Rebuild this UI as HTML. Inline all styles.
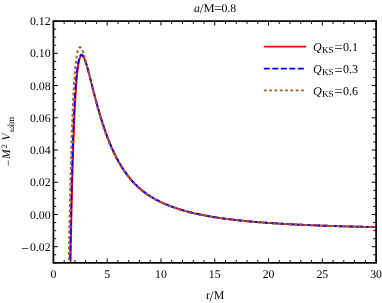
<!DOCTYPE html>
<html><head><meta charset="utf-8"><title>plot</title>
<style>html,body{margin:0;padding:0;background:#fff}svg{display:block}text{font-family:"Liberation Serif",serif;fill:#000;text-rendering:geometricPrecision}svg{will-change:transform}</style></head>
<body>
<svg width="382" height="303" viewBox="0 0 382 303">
<rect width="382" height="303" fill="#fff"/>
<defs><clipPath id="c"><rect x="53.4" y="21.1" width="322.70" height="241.75"/></clipPath></defs>
<g clip-path="url(#c)" fill="none" stroke-linejoin="round">
<path d="M70.38,270.86 L70.47,265.39 L70.57,260.03 L70.66,254.78 L70.76,249.63 L70.85,244.58 L70.95,239.64 L71.04,234.79 L71.13,230.05 L71.23,225.40 L71.32,220.85 L71.42,216.40 L71.51,212.04 L71.61,207.77 L71.70,203.59 L71.80,199.50 L71.89,195.49 L71.98,191.58 L72.08,187.75 L72.17,184.00 L72.27,180.33 L72.36,176.75 L72.46,173.24 L72.55,169.81 L72.65,166.46 L72.74,163.19 L72.83,159.99 L72.93,156.86 L73.02,153.80 L73.12,150.82 L73.21,147.90 L73.31,145.05 L73.40,142.27 L73.49,139.55 L73.59,136.90 L73.68,134.31 L73.78,131.78 L73.87,129.31 L73.97,126.91 L74.06,124.56 L74.16,122.27 L74.25,120.03 L74.34,117.86 L74.44,115.73 L74.53,113.66 L74.63,111.64 L74.72,109.68 L74.82,107.76 L74.91,105.89 L75.01,104.08 L75.10,102.31 L75.19,100.58 L75.29,98.90 L75.38,97.27 L75.48,95.68 L75.57,94.14 L75.67,92.64 L75.76,91.17 L75.86,89.75 L75.95,88.37 L76.04,87.03 L76.14,85.73 L76.23,84.46 L76.33,83.23 L76.42,82.04 L76.52,80.89 L76.61,79.76 L76.70,78.68 L76.80,77.62 L76.89,76.60 L76.99,75.61 L77.08,74.65 L77.18,73.72 L77.27,72.82 L77.37,71.96 L77.46,71.12 L77.55,70.31 L77.65,69.52 L77.74,68.77 L77.84,68.04 L77.93,67.33 L78.03,66.66 L78.12,66.00 L78.22,65.38 L78.31,64.77 L78.40,64.19 L78.50,63.63 L78.59,63.10 L78.69,62.58 L78.78,62.09 L78.88,61.62 L78.97,61.17 L79.07,60.74 L79.16,60.33 L79.25,59.94 L79.35,59.57 L79.44,59.22 L79.54,58.88 L79.63,58.56 L79.73,58.27 L79.82,57.98 L79.92,57.72 L80.01,57.47 L80.10,57.23 L80.20,57.02 L80.29,56.81 L80.39,56.62 L80.48,56.45 L80.58,56.29 L80.67,56.15 L80.76,56.02 L80.86,55.90 L80.95,55.79 L81.05,55.70 L81.14,55.62 L81.24,55.55 L81.33,55.50 L81.43,55.45 L81.52,55.42 L81.61,55.40 L81.71,55.39 L81.80,55.39 L81.90,55.40 L81.99,55.42 L82.09,55.45 L82.18,55.49 L82.28,55.54 L82.37,55.60 L82.46,55.67 L82.56,55.75 L82.65,55.83 L82.75,55.93 L82.84,56.03 L82.94,56.14 L83.03,56.26 L83.13,56.38 L83.22,56.52 L83.31,56.66 L83.41,56.81 L83.50,56.96 L83.60,57.12 L83.69,57.29 L83.79,57.46 L83.88,57.65 L83.97,57.83 L84.07,58.03 L84.16,58.22 L84.26,58.43 L84.35,58.64 L84.45,58.85 L84.54,59.07 L84.64,59.30 L84.73,59.53 L84.82,59.77 L84.92,60.01 L85.01,60.25 L85.11,60.50 L85.20,60.76 L85.30,61.01 L85.39,61.28 L85.49,61.54 L85.58,61.81 L85.67,62.09 L85.77,62.37 L85.86,62.65 L85.96,62.96 L86.05,63.25 L86.15,63.54 L86.24,63.84 L86.34,64.14 L86.43,64.44 L86.52,64.74 L86.62,65.05 L86.71,65.36 L86.81,65.67 L86.90,65.99 L87.00,66.31 L87.09,66.63 L87.19,66.95 L87.28,67.27 L87.37,67.60 L87.47,67.93 L87.56,68.26 L87.66,68.59 L87.75,68.93 L87.85,69.27 L87.94,69.60 L88.03,69.94 L88.13,70.29 L88.22,70.63 L88.32,70.98 L88.41,71.32 L88.51,71.67 L88.60,72.02 L88.70,72.37 L88.79,72.72 L88.88,73.08 L88.98,73.43 L89.07,73.79 L89.17,74.14 L89.26,74.50 L89.36,74.86 L89.45,75.22 L89.55,75.58 L89.64,75.94 L89.73,76.31 L89.83,76.67 L89.92,77.03 L90.02,77.40 L90.11,77.76 L90.21,78.13 L90.30,78.49 L90.40,78.86 L90.49,79.23 L90.58,79.59 L90.68,79.96 L90.77,80.33 L90.87,80.70 L90.96,81.07 L91.06,81.44 L91.15,81.81 L91.24,82.17 L91.34,82.54 L91.43,82.91 L91.53,83.28 L91.62,83.65 L91.72,84.02 L91.81,84.39 L91.91,84.76 L92.00,85.14 L92.09,85.51 L92.19,85.88 L92.28,86.25 L92.38,86.62 L92.47,86.98 L92.57,87.35 L92.66,87.72 L92.76,88.09 L92.85,88.46 L92.94,88.83 L93.04,89.20 L93.13,89.57 L93.23,89.93 L93.32,90.30 L93.42,90.67 L93.51,91.04 L93.61,91.40 L93.70,91.77 L93.79,92.13 L93.89,92.50 L93.98,92.86 L94.08,93.23 L94.17,93.59 L94.27,93.96 L94.36,94.32 L94.46,94.68 L94.55,95.04 L94.64,95.41 L94.74,95.77 L94.83,96.13 L94.93,96.49 L95.02,96.85 L95.12,97.20 L95.21,97.56 L95.30,97.92 L95.40,98.28 L95.49,98.63 L95.59,98.99 L95.68,99.34 L95.78,99.70 L95.87,100.05 L95.97,100.40 L96.06,100.75 L96.15,101.11 L96.25,101.46 L96.34,101.81 L96.44,102.16 L96.53,102.50 L96.63,102.85 L97.71,106.80 L98.80,110.65 L99.89,114.38 L100.98,118.00 L102.07,121.49 L103.16,124.87 L104.24,128.14 L105.33,131.28 L106.42,134.31 L107.51,137.23 L108.60,140.05 L109.68,142.76 L110.77,145.37 L111.86,147.88 L112.95,150.30 L114.04,152.62 L115.12,154.86 L116.21,157.02 L117.30,159.09 L118.39,161.09 L119.48,163.02 L120.57,164.87 L121.65,166.66 L122.74,168.38 L123.83,170.03 L124.92,171.63 L126.01,173.17 L127.09,174.65 L128.18,176.08 L129.27,177.45 L130.36,178.78 L131.45,180.06 L132.53,181.29 L133.62,182.48 L134.71,183.62 L135.80,184.73 L136.89,185.79 L137.98,186.82 L139.06,187.81 L140.15,188.77 L141.24,189.70 L142.33,190.59 L143.42,191.45 L144.50,192.28 L145.59,193.09 L146.68,193.86 L147.77,194.62 L148.86,195.34 L149.94,196.05 L151.03,196.73 L152.12,197.39 L153.21,198.03 L154.30,198.66 L155.39,199.26 L156.47,199.85 L157.56,200.42 L158.65,200.97 L159.74,201.51 L160.83,202.03 L161.91,202.54 L163.00,203.04 L164.09,203.52 L165.18,203.99 L166.27,204.45 L167.35,204.90 L168.44,205.33 L169.53,205.76 L170.62,206.18 L171.71,206.58 L172.80,206.98 L173.88,207.37 L174.97,207.75 L176.06,208.12 L177.15,208.48 L178.24,208.83 L179.32,209.18 L180.41,209.52 L181.50,209.85 L182.59,210.17 L183.68,210.49 L184.76,210.80 L185.85,211.10 L186.94,211.40 L188.03,211.69 L189.12,211.97 L190.21,212.25 L191.29,212.52 L192.38,212.79 L193.47,213.05 L194.56,213.31 L195.65,213.56 L196.73,213.80 L197.82,214.04 L198.91,214.27 L200.00,214.50 L201.09,214.73 L202.17,214.95 L203.26,215.17 L204.35,215.38 L205.44,215.58 L206.53,215.79 L207.62,215.99 L208.70,216.18 L209.79,216.37 L210.88,216.56 L211.97,216.74 L213.06,216.92 L214.14,217.10 L215.23,217.28 L216.32,217.45 L217.41,217.61 L218.50,217.78 L219.58,217.94 L220.67,218.10 L221.76,218.25 L222.85,218.40 L223.94,218.55 L225.03,218.70 L226.11,218.84 L227.20,218.98 L228.29,219.12 L229.38,219.26 L230.47,219.39 L231.55,219.52 L232.64,219.65 L233.73,219.78 L234.82,219.91 L235.91,220.03 L236.99,220.15 L238.08,220.27 L239.17,220.38 L240.26,220.50 L241.35,220.61 L242.44,220.72 L243.52,220.83 L244.61,220.94 L245.70,221.05 L246.79,221.15 L247.88,221.25 L248.96,221.35 L250.05,221.45 L251.14,221.55 L252.23,221.64 L253.32,221.74 L254.40,221.83 L255.49,221.92 L256.58,222.01 L257.67,222.10 L258.76,222.19 L259.85,222.27 L260.93,222.36 L262.02,222.44 L263.11,222.52 L264.20,222.61 L265.29,222.69 L266.37,222.76 L267.46,222.84 L268.55,222.92 L269.64,222.99 L270.73,223.07 L271.81,223.14 L272.90,223.21 L273.99,223.28 L275.08,223.35 L276.17,223.42 L277.26,223.49 L278.34,223.56 L279.43,223.62 L280.52,223.69 L281.61,223.75 L282.70,223.81 L283.78,223.88 L284.87,223.94 L285.96,224.00 L287.05,224.06 L288.14,224.12 L289.22,224.18 L290.31,224.23 L291.40,224.29 L292.49,224.35 L293.58,224.40 L294.67,224.46 L295.75,224.51 L296.84,224.56 L297.93,224.62 L299.02,224.67 L300.11,224.72 L301.19,224.77 L302.28,224.82 L303.37,224.87 L304.46,224.92 L305.55,224.96 L306.64,225.01 L307.72,225.06 L308.81,225.11 L309.90,225.15 L310.99,225.20 L312.08,225.24 L313.16,225.28 L314.25,225.33 L315.34,225.37 L316.43,225.41 L317.52,225.45 L318.60,225.50 L319.69,225.54 L320.78,225.58 L321.87,225.62 L322.96,225.66 L324.05,225.70 L325.13,225.73 L326.22,225.77 L327.31,225.81 L328.40,225.85 L329.49,225.88 L330.57,225.92 L331.66,225.96 L332.75,225.99 L333.84,226.03 L334.93,226.06 L336.01,226.10 L337.10,226.13 L338.19,226.16 L339.28,226.20 L340.37,226.23 L341.46,226.26 L342.54,226.29 L343.63,226.33 L344.72,226.36 L345.81,226.39 L346.90,226.42 L347.98,226.45 L349.07,226.48 L350.16,226.51 L351.25,226.54 L352.34,226.57 L353.42,226.60 L354.51,226.62 L355.60,226.65 L356.69,226.68 L357.78,226.71 L358.87,226.74 L359.95,226.76 L361.04,226.79 L362.13,226.82 L363.22,226.84 L364.31,226.87 L365.39,226.89 L366.48,226.92 L367.57,226.94 L368.66,226.97 L369.75,226.99 L370.83,227.02 L371.92,227.04 L373.01,227.07 L374.10,227.09 L375.19,227.11 L376.28,227.14 L377.36,227.16 L378.45,227.18" stroke="#ff0000" stroke-width="1.9"/>
<path d="M69.84,273.16 L69.93,267.64 L70.03,262.23 L70.12,256.92 L70.22,251.72 L70.31,246.63 L70.41,241.63 L70.50,236.74 L70.60,231.95 L70.69,227.25 L70.78,222.65 L70.88,218.15 L70.97,213.74 L71.07,209.42 L71.16,205.19 L71.26,201.06 L71.35,197.01 L71.45,193.05 L71.54,189.17 L71.63,185.38 L71.73,181.67 L71.82,178.04 L71.92,174.49 L72.01,171.02 L72.11,167.63 L72.20,164.31 L72.30,161.07 L72.39,157.90 L72.48,154.80 L72.58,151.78 L72.67,148.82 L72.77,145.94 L72.86,143.12 L72.96,140.36 L73.05,137.67 L73.14,135.05 L73.24,132.49 L73.33,129.99 L73.43,127.54 L73.52,125.16 L73.62,122.84 L73.71,120.57 L73.81,118.36 L73.90,116.21 L73.99,114.11 L74.09,112.06 L74.18,110.07 L74.28,108.12 L74.37,106.23 L74.47,104.38 L74.56,102.58 L74.66,100.83 L74.75,99.13 L74.84,97.47 L74.94,95.86 L75.03,94.29 L75.13,92.76 L75.23,91.28 L75.32,89.83 L75.42,88.43 L75.52,87.07 L75.62,85.74 L75.71,84.45 L75.81,83.21 L75.91,81.99 L76.01,80.82 L76.11,79.67 L76.21,78.57 L76.31,77.49 L76.41,76.45 L76.51,75.45 L76.61,74.47 L76.71,73.52 L76.81,72.61 L76.91,71.73 L77.01,70.87 L77.11,70.04 L77.22,69.25 L77.32,68.48 L77.42,67.73 L77.52,67.01 L77.62,66.32 L77.72,65.66 L77.83,65.02 L77.93,64.40 L78.03,63.80 L78.13,63.24 L78.23,62.69 L78.34,62.16 L78.44,61.66 L78.54,61.18 L78.64,60.72 L78.74,60.28 L78.85,59.86 L78.95,59.46 L79.05,59.08 L79.15,58.71 L79.25,58.37 L79.35,58.04 L79.46,57.74 L79.56,57.45 L79.66,57.17 L79.76,56.91 L79.86,56.67 L79.96,56.45 L80.06,56.24 L80.16,56.04 L80.26,55.86 L80.36,55.70 L80.46,55.55 L80.55,55.41 L80.65,55.28 L80.75,55.17 L80.85,55.08 L80.94,54.99 L81.04,54.92 L81.14,54.86 L81.23,54.81 L81.33,54.77 L81.43,54.75 L81.52,54.73 L81.61,54.73 L81.71,54.73 L81.80,54.75 L81.90,54.78 L81.99,54.81 L82.09,54.86 L82.18,54.92 L82.28,54.98 L82.37,55.06 L82.46,55.14 L82.56,55.23 L82.65,55.33 L82.75,55.44 L82.84,55.55 L82.94,55.68 L83.03,55.81 L83.13,55.95 L83.22,56.09 L83.31,56.24 L83.41,56.40 L83.50,56.57 L83.60,56.74 L83.69,56.92 L83.79,57.11 L83.88,57.30 L83.97,57.50 L84.07,57.70 L84.16,57.91 L84.26,58.13 L84.35,58.34 L84.45,58.57 L84.54,58.80 L84.64,59.04 L84.73,59.28 L84.82,59.52 L84.92,59.77 L85.01,60.02 L85.11,60.28 L85.20,60.54 L85.30,60.81 L85.39,61.08 L85.49,61.35 L85.58,61.63 L85.67,61.91 L85.77,62.20 L85.86,62.49 L85.96,62.81 L86.05,63.11 L86.15,63.40 L86.24,63.71 L86.34,64.01 L86.43,64.32 L86.52,64.63 L86.62,64.94 L86.71,65.26 L86.81,65.58 L86.90,65.90 L87.00,66.22 L87.09,66.55 L87.19,66.87 L87.28,67.20 L87.37,67.54 L87.47,67.87 L87.56,68.21 L87.66,68.54 L87.75,68.88 L87.85,69.23 L87.94,69.57 L88.03,69.91 L88.13,70.26 L88.22,70.61 L88.32,70.96 L88.41,71.31 L88.51,71.66 L88.60,72.02 L88.70,72.37 L88.79,72.73 L88.88,73.08 L88.98,73.44 L89.07,73.80 L89.17,74.16 L89.26,74.52 L89.36,74.89 L89.45,75.25 L89.55,75.61 L89.64,75.98 L89.73,76.34 L89.83,76.71 L89.92,77.07 L90.02,77.44 L90.11,77.81 L90.21,78.18 L90.30,78.55 L90.40,78.92 L90.49,79.29 L90.58,79.66 L90.68,80.03 L90.77,80.40 L90.87,80.77 L90.96,81.14 L91.06,81.51 L91.15,81.88 L91.24,82.25 L91.34,82.63 L91.43,83.00 L91.53,83.37 L91.62,83.74 L91.72,84.11 L91.81,84.49 L91.91,84.86 L92.00,85.23 L92.09,85.60 L92.19,85.97 L92.28,86.34 L92.38,86.72 L92.47,87.09 L92.57,87.46 L92.66,87.83 L92.76,88.20 L92.85,88.57 L92.94,88.94 L93.04,89.31 L93.13,89.68 L93.23,90.05 L93.32,90.42 L93.42,90.79 L93.51,91.15 L93.61,91.52 L93.70,91.89 L93.79,92.26 L93.89,92.62 L93.98,92.99 L94.08,93.35 L94.17,93.72 L94.27,94.08 L94.36,94.45 L94.46,94.81 L94.55,95.17 L94.64,95.54 L94.74,95.90 L94.83,96.26 L94.93,96.62 L95.02,96.98 L95.12,97.34 L95.21,97.70 L95.30,98.06 L95.40,98.41 L95.49,98.77 L95.59,99.13 L95.68,99.48 L95.78,99.84 L95.87,100.19 L95.97,100.54 L96.06,100.90 L96.15,101.25 L96.25,101.60 L96.34,101.95 L96.44,102.30 L96.53,102.65 L96.63,103.00 L97.71,106.95 L98.80,110.80 L99.89,114.53 L100.98,118.15 L102.07,121.65 L103.16,125.02 L104.24,128.28 L105.33,131.43 L106.42,134.45 L107.51,137.37 L108.60,140.18 L109.68,142.89 L110.77,145.49 L111.86,148.00 L112.95,150.42 L114.04,152.74 L115.12,154.97 L116.21,157.13 L117.30,159.20 L118.39,161.20 L119.48,163.12 L120.57,164.97 L121.65,166.75 L122.74,168.47 L123.83,170.12 L124.92,171.71 L126.01,173.25 L127.09,174.73 L128.18,176.15 L129.27,177.53 L130.36,178.85 L131.45,180.13 L132.53,181.36 L133.62,182.54 L134.71,183.69 L135.80,184.79 L136.89,185.85 L137.98,186.88 L139.06,187.87 L140.15,188.83 L141.24,189.75 L142.33,190.64 L143.42,191.50 L144.50,192.33 L145.59,193.13 L146.68,193.91 L147.77,194.66 L148.86,195.39 L149.94,196.09 L151.03,196.77 L152.12,197.43 L153.21,198.07 L154.30,198.69 L155.39,199.30 L156.47,199.88 L157.56,200.45 L158.65,201.00 L159.74,201.54 L160.83,202.06 L161.91,202.57 L163.00,203.06 L164.09,203.55 L165.18,204.02 L166.27,204.48 L167.35,204.92 L168.44,205.36 L169.53,205.79 L170.62,206.20 L171.71,206.61 L172.80,207.00 L173.88,207.39 L174.97,207.77 L176.06,208.14 L177.15,208.50 L178.24,208.86 L179.32,209.20 L180.41,209.54 L181.50,209.87 L182.59,210.19 L183.68,210.51 L184.76,210.82 L185.85,211.12 L186.94,211.42 L188.03,211.71 L189.12,211.99 L190.21,212.27 L191.29,212.54 L192.38,212.81 L193.47,213.07 L194.56,213.32 L195.65,213.57 L196.73,213.82 L197.82,214.05 L198.91,214.29 L200.00,214.52 L201.09,214.74 L202.17,214.96 L203.26,215.18 L204.35,215.39 L205.44,215.60 L206.53,215.80 L207.62,216.00 L208.70,216.19 L209.79,216.38 L210.88,216.57 L211.97,216.76 L213.06,216.94 L214.14,217.11 L215.23,217.29 L216.32,217.46 L217.41,217.62 L218.50,217.79 L219.58,217.95 L220.67,218.10 L221.76,218.26 L222.85,218.41 L223.94,218.56 L225.03,218.71 L226.11,218.85 L227.20,218.99 L228.29,219.13 L229.38,219.27 L230.47,219.40 L231.55,219.53 L232.64,219.66 L233.73,219.79 L234.82,219.91 L235.91,220.04 L236.99,220.16 L238.08,220.27 L239.17,220.39 L240.26,220.51 L241.35,220.62 L242.44,220.73 L243.52,220.84 L244.61,220.95 L245.70,221.05 L246.79,221.16 L247.88,221.26 L248.96,221.36 L250.05,221.46 L251.14,221.55 L252.23,221.65 L253.32,221.74 L254.40,221.84 L255.49,221.93 L256.58,222.02 L257.67,222.11 L258.76,222.19 L259.85,222.28 L260.93,222.36 L262.02,222.45 L263.11,222.53 L264.20,222.61 L265.29,222.69 L266.37,222.77 L267.46,222.85 L268.55,222.92 L269.64,223.00 L270.73,223.07 L271.81,223.14 L272.90,223.22 L273.99,223.29 L275.08,223.36 L276.17,223.42 L277.26,223.49 L278.34,223.56 L279.43,223.63 L280.52,223.69 L281.61,223.75 L282.70,223.82 L283.78,223.88 L284.87,223.94 L285.96,224.00 L287.05,224.06 L288.14,224.12 L289.22,224.18 L290.31,224.24 L291.40,224.29 L292.49,224.35 L293.58,224.41 L294.67,224.46 L295.75,224.51 L296.84,224.57 L297.93,224.62 L299.02,224.67 L300.11,224.72 L301.19,224.77 L302.28,224.82 L303.37,224.87 L304.46,224.92 L305.55,224.97 L306.64,225.02 L307.72,225.06 L308.81,225.11 L309.90,225.15 L310.99,225.20 L312.08,225.24 L313.16,225.29 L314.25,225.33 L315.34,225.37 L316.43,225.42 L317.52,225.46 L318.60,225.50 L319.69,225.54 L320.78,225.58 L321.87,225.62 L322.96,225.66 L324.05,225.70 L325.13,225.74 L326.22,225.77 L327.31,225.81 L328.40,225.85 L329.49,225.89 L330.57,225.92 L331.66,225.96 L332.75,225.99 L333.84,226.03 L334.93,226.06 L336.01,226.10 L337.10,226.13 L338.19,226.16 L339.28,226.20 L340.37,226.23 L341.46,226.26 L342.54,226.30 L343.63,226.33 L344.72,226.36 L345.81,226.39 L346.90,226.42 L347.98,226.45 L349.07,226.48 L350.16,226.51 L351.25,226.54 L352.34,226.57 L353.42,226.60 L354.51,226.63 L355.60,226.65 L356.69,226.68 L357.78,226.71 L358.87,226.74 L359.95,226.76 L361.04,226.79 L362.13,226.82 L363.22,226.84 L364.31,226.87 L365.39,226.89 L366.48,226.92 L367.57,226.94 L368.66,226.97 L369.75,226.99 L370.83,227.02 L371.92,227.04 L373.01,227.07 L374.10,227.09 L375.19,227.11 L376.28,227.14 L377.36,227.16 L378.45,227.18" stroke="#0000ff" stroke-width="1.9" stroke-dasharray="6 2.5" stroke-dashoffset="3.59"/>
<path d="M68.59,272.07 L68.68,266.53 L68.77,261.08 L68.87,255.73 L68.96,250.49 L69.06,245.34 L69.15,240.29 L69.25,235.33 L69.34,230.47 L69.43,225.71 L69.53,221.04 L69.62,216.46 L69.72,211.97 L69.81,207.57 L69.91,203.26 L70.00,199.03 L70.10,194.90 L70.19,190.84 L70.28,186.87 L70.38,182.99 L70.47,179.18 L70.57,175.46 L70.66,171.81 L70.76,168.24 L70.85,164.75 L70.95,161.34 L71.04,158.00 L71.13,154.73 L71.23,151.54 L71.32,148.41 L71.42,145.36 L71.51,142.37 L71.61,139.46 L71.70,136.61 L71.80,133.82 L71.89,131.10 L71.98,128.45 L72.08,125.85 L72.17,123.32 L72.27,120.85 L72.36,118.43 L72.46,116.08 L72.55,113.78 L72.65,111.54 L72.74,109.35 L72.83,107.22 L72.93,105.14 L73.02,103.11 L73.12,101.14 L73.21,99.21 L73.31,97.34 L73.40,95.51 L73.49,93.73 L73.59,92.00 L73.68,90.31 L73.78,88.67 L73.87,87.08 L73.97,85.53 L74.06,84.02 L74.16,82.55 L74.25,81.12 L74.34,79.73 L74.44,78.39 L74.53,77.08 L74.63,75.81 L74.72,74.58 L74.82,73.38 L74.91,72.22 L75.01,71.10 L75.10,70.01 L75.19,68.95 L75.29,67.93 L75.38,66.94 L75.48,65.98 L75.57,65.05 L75.67,64.15 L75.76,63.29 L75.86,62.45 L75.95,61.64 L76.04,60.86 L76.14,60.11 L76.23,59.38 L76.33,58.68 L76.42,58.01 L76.52,57.36 L76.61,56.74 L76.70,56.14 L76.80,55.57 L76.89,55.02 L76.99,54.49 L77.08,53.99 L77.18,53.50 L77.27,53.04 L77.37,52.60 L77.46,52.18 L77.55,51.78 L77.65,51.40 L77.74,51.04 L77.84,50.70 L77.93,50.38 L78.03,50.08 L78.12,49.79 L78.22,49.52 L78.31,49.27 L78.40,49.03 L78.50,48.82 L78.59,48.61 L78.69,48.43 L78.78,48.25 L78.88,48.10 L78.97,47.96 L79.07,47.83 L79.16,47.71 L79.25,47.61 L79.35,47.53 L79.44,47.45 L79.54,47.39 L79.63,47.34 L79.73,47.31 L79.82,47.28 L79.92,47.27 L80.01,47.27 L80.10,47.28 L80.20,47.30 L80.29,47.33 L80.39,47.37 L80.48,47.43 L80.58,47.49 L80.67,47.56 L80.76,47.64 L80.86,47.73 L80.95,47.83 L81.05,47.94 L81.14,48.06 L81.24,48.18 L81.33,48.32 L81.43,48.46 L81.52,48.61 L81.61,48.76 L81.71,48.93 L81.80,49.10 L81.90,49.28 L81.99,49.47 L82.09,49.66 L82.18,49.86 L82.28,50.06 L82.37,50.28 L82.46,50.49 L82.56,50.72 L82.65,50.95 L82.75,51.18 L82.84,51.42 L82.94,51.67 L83.03,51.92 L83.13,52.18 L83.22,52.44 L83.31,52.70 L83.41,52.97 L83.50,53.25 L83.60,53.53 L83.69,53.81 L83.79,54.10 L83.88,54.39 L83.97,54.69 L84.07,54.99 L84.16,55.30 L84.26,55.60 L84.35,55.91 L84.45,56.23 L84.54,56.55 L84.64,56.87 L84.73,57.19 L84.82,57.52 L84.92,57.85 L85.01,58.18 L85.11,58.52 L85.20,58.86 L85.30,59.20 L85.39,59.54 L85.49,59.89 L85.58,60.24 L85.67,60.59 L85.77,60.94 L85.86,61.29 L85.96,61.68 L86.05,62.04 L86.15,62.40 L86.24,62.77 L86.34,63.13 L86.43,63.50 L86.52,63.87 L86.62,64.24 L86.71,64.61 L86.81,64.98 L86.90,65.35 L87.00,65.73 L87.09,66.11 L87.19,66.48 L87.28,66.86 L87.37,67.24 L87.47,67.62 L87.56,68.01 L87.66,68.39 L87.75,68.77 L87.85,69.16 L87.94,69.54 L88.03,69.93 L88.13,70.32 L88.22,70.71 L88.32,71.09 L88.41,71.48 L88.51,71.87 L88.60,72.26 L88.70,72.65 L88.79,73.05 L88.88,73.44 L88.98,73.83 L89.07,74.22 L89.17,74.61 L89.26,75.01 L89.36,75.40 L89.45,75.79 L89.55,76.19 L89.64,76.58 L89.73,76.97 L89.83,77.37 L89.92,77.76 L90.02,78.16 L90.11,78.55 L90.21,78.94 L90.30,79.34 L90.40,79.73 L90.49,80.12 L90.58,80.52 L90.68,80.91 L90.77,81.30 L90.87,81.69 L90.96,82.09 L91.06,82.48 L91.15,82.87 L91.24,83.26 L91.34,83.65 L91.43,84.04 L91.53,84.44 L91.62,84.83 L91.72,85.21 L91.81,85.60 L91.91,85.99 L92.00,86.38 L92.09,86.77 L92.19,87.16 L92.28,87.54 L92.38,87.93 L92.47,88.32 L92.57,88.70 L92.66,89.09 L92.76,89.47 L92.85,89.85 L92.94,90.24 L93.04,90.62 L93.13,91.00 L93.23,91.38 L93.32,91.76 L93.42,92.14 L93.51,92.52 L93.61,92.90 L93.70,93.28 L93.79,93.65 L93.89,94.03 L93.98,94.40 L94.08,94.78 L94.17,95.15 L94.27,95.53 L94.36,95.90 L94.46,96.27 L94.55,96.64 L94.64,97.01 L94.74,97.38 L94.83,97.75 L94.93,98.12 L95.02,98.48 L95.12,98.85 L95.21,99.22 L95.30,99.58 L95.40,99.94 L95.49,100.31 L95.59,100.67 L95.68,101.03 L95.78,101.39 L95.87,101.75 L95.97,102.11 L96.06,102.46 L96.15,102.82 L96.25,103.17 L96.34,103.53 L96.44,103.88 L96.53,104.24 L96.63,104.59 L97.71,108.58 L98.80,112.44 L99.89,116.18 L100.98,119.78 L102.07,123.26 L103.16,126.62 L104.24,129.85 L105.33,132.96 L106.42,135.95 L107.51,138.83 L108.60,141.61 L109.68,144.27 L110.77,146.84 L111.86,149.31 L112.95,151.68 L114.04,153.97 L115.12,156.16 L116.21,158.28 L117.30,160.32 L118.39,162.28 L119.48,164.16 L120.57,165.98 L121.65,167.73 L122.74,169.41 L123.83,171.04 L124.92,172.60 L126.01,174.11 L127.09,175.56 L128.18,176.96 L129.27,178.30 L130.36,179.60 L131.45,180.86 L132.53,182.06 L133.62,183.23 L134.71,184.35 L135.80,185.43 L136.89,186.47 L137.98,187.48 L139.06,188.45 L140.15,189.39 L141.24,190.30 L142.33,191.17 L143.42,192.02 L144.50,192.83 L145.59,193.62 L146.68,194.38 L147.77,195.12 L148.86,195.83 L149.94,196.52 L151.03,197.19 L152.12,197.84 L153.21,198.47 L154.30,199.08 L155.39,199.67 L156.47,200.25 L157.56,200.80 L158.65,201.35 L159.74,201.88 L160.83,202.39 L161.91,202.89 L163.00,203.38 L164.09,203.85 L165.18,204.31 L166.27,204.76 L167.35,205.20 L168.44,205.63 L169.53,206.05 L170.62,206.46 L171.71,206.86 L172.80,207.25 L173.88,207.63 L174.97,208.01 L176.06,208.37 L177.15,208.73 L178.24,209.07 L179.32,209.42 L180.41,209.75 L181.50,210.07 L182.59,210.39 L183.68,210.70 L184.76,211.01 L185.85,211.31 L186.94,211.60 L188.03,211.89 L189.12,212.17 L190.21,212.44 L191.29,212.71 L192.38,212.97 L193.47,213.23 L194.56,213.48 L195.65,213.72 L196.73,213.97 L197.82,214.20 L198.91,214.43 L200.00,214.66 L201.09,214.88 L202.17,215.10 L203.26,215.31 L204.35,215.52 L205.44,215.72 L206.53,215.92 L207.62,216.12 L208.70,216.31 L209.79,216.50 L210.88,216.69 L211.97,216.87 L213.06,217.05 L214.14,217.22 L215.23,217.39 L216.32,217.56 L217.41,217.73 L218.50,217.89 L219.58,218.05 L220.67,218.20 L221.76,218.35 L222.85,218.50 L223.94,218.65 L225.03,218.80 L226.11,218.94 L227.20,219.08 L228.29,219.22 L229.38,219.35 L230.47,219.48 L231.55,219.61 L232.64,219.74 L233.73,219.87 L234.82,219.99 L235.91,220.11 L236.99,220.23 L238.08,220.35 L239.17,220.46 L240.26,220.58 L241.35,220.69 L242.44,220.80 L243.52,220.91 L244.61,221.01 L245.70,221.12 L246.79,221.22 L247.88,221.32 L248.96,221.42 L250.05,221.52 L251.14,221.61 L252.23,221.71 L253.32,221.80 L254.40,221.89 L255.49,221.98 L256.58,222.07 L257.67,222.16 L258.76,222.25 L259.85,222.33 L260.93,222.42 L262.02,222.50 L263.11,222.58 L264.20,222.66 L265.29,222.74 L266.37,222.82 L267.46,222.89 L268.55,222.97 L269.64,223.04 L270.73,223.12 L271.81,223.19 L272.90,223.26 L273.99,223.33 L275.08,223.40 L276.17,223.47 L277.26,223.54 L278.34,223.60 L279.43,223.67 L280.52,223.73 L281.61,223.79 L282.70,223.86 L283.78,223.92 L284.87,223.98 L285.96,224.04 L287.05,224.10 L288.14,224.16 L289.22,224.22 L290.31,224.27 L291.40,224.33 L292.49,224.38 L293.58,224.44 L294.67,224.49 L295.75,224.55 L296.84,224.60 L297.93,224.65 L299.02,224.70 L300.11,224.75 L301.19,224.80 L302.28,224.85 L303.37,224.90 L304.46,224.95 L305.55,225.00 L306.64,225.04 L307.72,225.09 L308.81,225.14 L309.90,225.18 L310.99,225.23 L312.08,225.27 L313.16,225.31 L314.25,225.36 L315.34,225.40 L316.43,225.44 L317.52,225.48 L318.60,225.52 L319.69,225.56 L320.78,225.60 L321.87,225.64 L322.96,225.68 L324.05,225.72 L325.13,225.76 L326.22,225.80 L327.31,225.84 L328.40,225.87 L329.49,225.91 L330.57,225.94 L331.66,225.98 L332.75,226.02 L333.84,226.05 L334.93,226.08 L336.01,226.12 L337.10,226.15 L338.19,226.19 L339.28,226.22 L340.37,226.25 L341.46,226.28 L342.54,226.32 L343.63,226.35 L344.72,226.38 L345.81,226.41 L346.90,226.44 L347.98,226.47 L349.07,226.50 L350.16,226.53 L351.25,226.56 L352.34,226.59 L353.42,226.62 L354.51,226.64 L355.60,226.67 L356.69,226.70 L357.78,226.73 L358.87,226.75 L359.95,226.78 L361.04,226.81 L362.13,226.83 L363.22,226.86 L364.31,226.89 L365.39,226.91 L366.48,226.94 L367.57,226.96 L368.66,226.99 L369.75,227.01 L370.83,227.03 L371.92,227.06 L373.01,227.08 L374.10,227.11 L375.19,227.13 L376.28,227.15 L377.36,227.17 L378.45,227.20" stroke="#996633" stroke-width="2" stroke-dasharray="2.9 2.4125" stroke-dashoffset="3.95"/>
</g>
<path d="M53.40,262.85v-4.4M53.40,21.1v4.4M64.16,262.85v-2.8M64.16,21.1v2.8M74.91,262.85v-2.8M74.91,21.1v2.8M85.67,262.85v-2.8M85.67,21.1v2.8M96.43,262.85v-2.8M96.43,21.1v2.8M107.18,262.85v-4.4M107.18,21.1v4.4M117.94,262.85v-2.8M117.94,21.1v2.8M128.70,262.85v-2.8M128.70,21.1v2.8M139.45,262.85v-2.8M139.45,21.1v2.8M150.21,262.85v-2.8M150.21,21.1v2.8M160.97,262.85v-4.4M160.97,21.1v4.4M171.72,262.85v-2.8M171.72,21.1v2.8M182.48,262.85v-2.8M182.48,21.1v2.8M193.24,262.85v-2.8M193.24,21.1v2.8M203.99,262.85v-2.8M203.99,21.1v2.8M214.75,262.85v-4.4M214.75,21.1v4.4M225.51,262.85v-2.8M225.51,21.1v2.8M236.26,262.85v-2.8M236.26,21.1v2.8M247.02,262.85v-2.8M247.02,21.1v2.8M257.78,262.85v-2.8M257.78,21.1v2.8M268.53,262.85v-4.4M268.53,21.1v4.4M279.29,262.85v-2.8M279.29,21.1v2.8M290.05,262.85v-2.8M290.05,21.1v2.8M300.80,262.85v-2.8M300.80,21.1v2.8M311.56,262.85v-2.8M311.56,21.1v2.8M322.32,262.85v-4.4M322.32,21.1v4.4M333.07,262.85v-2.8M333.07,21.1v2.8M343.83,262.85v-2.8M343.83,21.1v2.8M354.59,262.85v-2.8M354.59,21.1v2.8M365.34,262.85v-2.8M365.34,21.1v2.8M376.10,262.85v-4.4M376.10,21.1v4.4M53.4,262.85h2.8M376.1,262.85h-2.8M53.4,254.79h2.8M376.1,254.79h-2.8M53.4,246.73h4.4M376.1,246.73h-4.4M53.4,238.68h2.8M376.1,238.68h-2.8M53.4,230.62h2.8M376.1,230.62h-2.8M53.4,222.56h2.8M376.1,222.56h-2.8M53.4,214.50h4.4M376.1,214.50h-4.4M53.4,206.44h2.8M376.1,206.44h-2.8M53.4,198.38h2.8M376.1,198.38h-2.8M53.4,190.33h2.8M376.1,190.33h-2.8M53.4,182.27h4.4M376.1,182.27h-4.4M53.4,174.21h2.8M376.1,174.21h-2.8M53.4,166.15h2.8M376.1,166.15h-2.8M53.4,158.09h2.8M376.1,158.09h-2.8M53.4,150.03h4.4M376.1,150.03h-4.4M53.4,141.98h2.8M376.1,141.98h-2.8M53.4,133.92h2.8M376.1,133.92h-2.8M53.4,125.86h2.8M376.1,125.86h-2.8M53.4,117.80h4.4M376.1,117.80h-4.4M53.4,109.74h2.8M376.1,109.74h-2.8M53.4,101.68h2.8M376.1,101.68h-2.8M53.4,93.62h2.8M376.1,93.62h-2.8M53.4,85.57h4.4M376.1,85.57h-4.4M53.4,77.51h2.8M376.1,77.51h-2.8M53.4,69.45h2.8M376.1,69.45h-2.8M53.4,61.39h2.8M376.1,61.39h-2.8M53.4,53.33h4.4M376.1,53.33h-4.4M53.4,45.27h2.8M376.1,45.27h-2.8M53.4,37.22h2.8M376.1,37.22h-2.8M53.4,29.16h2.8M376.1,29.16h-2.8M53.4,21.10h4.4M376.1,21.10h-4.4" stroke="#000" stroke-width="1" fill="none"/>
<rect x="53.4" y="21.1" width="322.70" height="241.75" fill="none" stroke="#000" stroke-width="1.7"/>
<text x="53.40" y="277.7" font-size="11.8" text-anchor="middle">0</text>
<text x="107.18" y="277.7" font-size="11.8" text-anchor="middle">5</text>
<text x="160.97" y="277.7" font-size="11.8" text-anchor="middle">10</text>
<text x="214.75" y="277.7" font-size="11.8" text-anchor="middle">15</text>
<text x="268.53" y="277.7" font-size="11.8" text-anchor="middle">20</text>
<text x="322.32" y="277.7" font-size="11.8" text-anchor="middle">25</text>
<text x="376.10" y="277.7" font-size="11.8" text-anchor="middle">30</text>
<text x="50.6" y="25.45" font-size="11.8" text-anchor="end">0.12</text>
<text x="50.6" y="57.45" font-size="11.8" text-anchor="end">0.10</text>
<text x="50.6" y="89.85" font-size="11.8" text-anchor="end">0.08</text>
<text x="50.6" y="121.85" font-size="11.8" text-anchor="end">0.06</text>
<text x="50.6" y="154.45" font-size="11.8" text-anchor="end">0.04</text>
<text x="50.6" y="186.45" font-size="11.8" text-anchor="end">0.02</text>
<text x="50.6" y="219.15" font-size="11.8" text-anchor="end">0.00</text>
<text x="50.6" y="250.85" font-size="11.8" text-anchor="end">0.02</text>
<text x="20.9" y="252.50" font-size="14">−</text>
<text y="11.7" font-size="11.8"><tspan x="194" font-style="italic">a</tspan><tspan x="199.8" dy="1" font-size="13.4">/</tspan><tspan x="213.9" dy="0.4" font-size="14.5">=</tspan><tspan x="221.5" dy="-1.4">0.8</tspan></text>
<text x="203.5" y="11.7" font-size="11.8" textLength="11.1" lengthAdjust="spacingAndGlyphs">M</text>
<text y="298.9" font-size="11.8"><tspan x="206.1">r</tspan><tspan x="209.4" dy="1.9" font-size="14.3">/</tspan><tspan x="213.7" dy="-1.9">M</tspan></text>
<text transform="translate(10.2,165.7) rotate(-90)" font-size="11.5"><tspan x="-0.6" y="1.6">−</tspan><tspan x="6.6" y="0" font-style="italic">M</tspan><tspan x="17.4" y="-3.6" font-size="8">2</tspan><tspan x="25.1" y="0" font-style="italic">V</tspan><tspan x="33.6" y="3.7" font-size="9.3">ω</tspan><tspan x="39.1" y="3.7" font-size="9.3">l</tspan><tspan x="41.6" y="3.7" font-size="9.3">m</tspan></text>
<path d="M263.8,46.7H306.2" stroke="#ff0000" stroke-width="1.75" fill="none"/>
<text y="50.8" font-size="12"><tspan x="313" font-style="italic">Q</tspan><tspan x="321.9" font-size="9.3" dy="1.9">KS</tspan><tspan x="334.4" dy="-0.3" font-size="14.5">=</tspan><tspan x="342.9" dy="-1.6">0.1</tspan></text>
<path d="M263.8,68.5H306.2" stroke="#0000ff" stroke-width="1.75" fill="none" stroke-dasharray="6 2.5"/>
<text y="73.1" font-size="12"><tspan x="313" font-style="italic">Q</tspan><tspan x="321.9" font-size="9.3" dy="1.9">KS</tspan><tspan x="334.4" dy="-0.3" font-size="14.5">=</tspan><tspan x="342.9" dy="-1.6">0.3</tspan></text>
<path d="M263.8,90.3H306.2" stroke="#996633" stroke-width="1.75" fill="none" stroke-dasharray="2.9 2.4125"/>
<text y="94.7" font-size="12"><tspan x="313" font-style="italic">Q</tspan><tspan x="321.9" font-size="9.3" dy="1.9">KS</tspan><tspan x="334.4" dy="-0.3" font-size="14.5">=</tspan><tspan x="342.9" dy="-1.6">0.6</tspan></text>
</svg></body></html>
